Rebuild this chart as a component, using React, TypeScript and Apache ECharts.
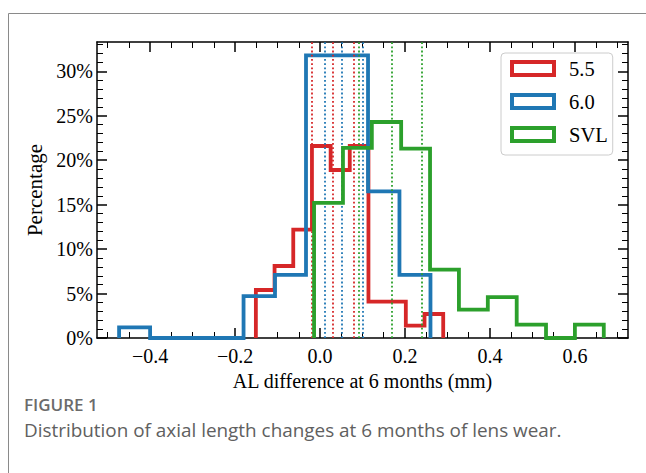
import React, { useEffect, useRef } from "react";
import * as echarts from "echarts";

// ---- data ----
const seriesNames = ["5.5", "6.0", "SVL"];
const seriesColors = ["#d62728", "#1f77b4", "#2ca02c"];

const edges55 = [-0.151, -0.107, -0.063, -0.019, 0.025, 0.07, 0.114, 0.158, 0.202, 0.246, 0.29];
const pct55 = [5.4, 8.1, 12.2, 21.6, 18.9, 21.6, 4.1, 4.1, 1.4, 2.7];

const edges60 = [-0.473, -0.4, -0.326, -0.253, -0.18, -0.106, -0.033, 0.04, 0.113, 0.187, 0.26];
const pct60 = [1.2, 0, 0, 0, 4.7, 7.1, 31.8, 31.8, 16.5, 7.1];

const edgesSVL = [-0.014, 0.054, 0.122, 0.191, 0.259, 0.327, 0.395, 0.463, 0.532, 0.6, 0.668];
const pctSVL = [15.2, 21.4, 24.3, 21.3, 7.7, 3.2, 4.6, 1.5, 0, 1.5];

// dotted reference lines (quartiles) per group
const quart55 = [-0.018, 0.029, 0.078];
const quart60 = [0.009, 0.049, 0.098];
const quartSVL = [0.089, 0.165, 0.239];

const xMajor = [-0.4, -0.2, 0, 0.2, 0.4, 0.6];
const xMinor = [-0.5, -0.45, -0.35, -0.3, -0.25, -0.15, -0.1, -0.05, 0.05, 0.1, 0.15, 0.25, 0.3, 0.35, 0.45, 0.5, 0.55, 0.65, 0.7];
const yMajor = [0, 5, 10, 15, 20, 25, 30];
const yMinor = [1, 2, 3, 4, 6, 7, 8, 9, 11, 12, 13, 14, 16, 17, 18, 19, 21, 22, 23, 24, 26, 27, 28, 29, 31, 32, 33];

const X_MIN = -0.525;
const X_MAX = 0.725;
const Y_MIN = 0;
const Y_MAX = 33.3;

const xTitle = "AL difference at 6 months (mm)";
const yTitle = "Percentage";
const figLabel = "FIGURE 1";
const caption = "Distribution of axial length changes at 6 months of lens wear.";

const SERIF = '"Liberation Serif", "Times New Roman", serif';
const SANS = '"Open Sans", "Noto Sans", sans-serif';

function stepPoints(edges: number[], vals: number[]): number[][] {
  const pts: number[][] = [[edges[0], 0]];
  for (let i = 0; i < vals.length; i++) {
    pts.push([edges[i], vals[i]]);
    pts.push([edges[i + 1], vals[i]]);
  }
  pts.push([edges[edges.length - 1], 0]);
  return pts;
}

function fmtX(v: number): string {
  const s = Math.abs(v).toFixed(1);
  return v < -1e-9 ? "\u2212" + s : s;
}

function xAxisDef(position: string, ticks: number[], len: number, main: boolean, withLabel: boolean): any {
  return {
    type: "value",
    position,
    min: X_MIN,
    max: X_MAX,
    axisLine: { show: main, onZero: false, lineStyle: { color: "#000", width: 1.5 } },
    axisTick: {
      show: true,
      inside: true,
      length: len,
      customValues: ticks,
      lineStyle: { color: "#000", width: len > 7 ? 1.5 : 1 },
    },
    axisLabel: withLabel
      ? {
          show: true,
          customValues: xMajor,
          formatter: fmtX,
          margin: 8,
          fontFamily: SERIF,
          fontSize: 20,
          color: "#000",
        }
      : { show: false },
    splitLine: { show: false },
    ...(withLabel
      ? {
          name: xTitle,
          nameLocation: "middle",
          nameGap: 32,
          nameTextStyle: { fontFamily: SERIF, fontSize: 20, color: "#000" },
        }
      : {}),
  };
}

function yAxisDef(position: string, ticks: number[], len: number, main: boolean, withLabel: boolean): any {
  return {
    type: "value",
    position,
    min: Y_MIN,
    max: Y_MAX,
    axisLine: { show: main, onZero: false, lineStyle: { color: "#000", width: 1.5 } },
    axisTick: {
      show: true,
      inside: true,
      length: len,
      customValues: ticks,
      lineStyle: { color: "#000", width: len > 7 ? 1.5 : 1 },
    },
    axisLabel: withLabel
      ? {
          show: true,
          customValues: yMajor,
          formatter: (v: number) => `${Math.round(v)}%`,
          margin: 4,
          fontFamily: SERIF,
          fontSize: 20,
          color: "#000",
        }
      : { show: false },
    splitLine: { show: false },
    ...(withLabel
      ? {
          name: yTitle,
          nameLocation: "middle",
          nameGap: 47,
          nameTextStyle: { fontFamily: SERIF, fontSize: 21, color: "#000" },
        }
      : {}),
  };
}

export default function App() {
  const ref = useRef<HTMLDivElement>(null);

  useEffect(() => {
    if (!ref.current) return;
    const chart = echarts.init(ref.current, undefined, { renderer: "svg" });

    const groups = [
      { edges: edges55, pct: pct55, quart: quart55 },
      { edges: edges60, pct: pct60, quart: quart60 },
      { edges: edgesSVL, pct: pctSVL, quart: quartSVL },
    ];

    const series: any[] = groups.map((g, i) => ({
      type: "line",
      name: seriesNames[i],
      xAxisIndex: 0,
      yAxisIndex: 0,
      data: stepPoints(g.edges, g.pct),
      showSymbol: false,
      symbol: "none",
      z: 3 + i,
      lineStyle: { color: seriesColors[i], width: 3.8, join: "miter", cap: "butt" },
      itemStyle: { color: seriesColors[i] },
      markLine: {
        silent: true,
        symbol: "none",
        label: { show: false },
        lineStyle: { color: seriesColors[i], width: 1.8, type: [1.8, 2.4], opacity: 1 },
        emphasis: { disabled: true },
        data: g.quart.map((v) => ({ xAxis: v })),
      },
    }));

    const option: any = {
      animation: false,
      backgroundColor: "#fff",
      grid: { left: 97, right: 18, top: 42, bottom: 135, containLabel: false },
      xAxis: [
        xAxisDef("bottom", xMajor, 10, true, true),
        xAxisDef("bottom", xMinor, 6, false, false),
        xAxisDef("top", xMajor, 10, true, false),
        xAxisDef("top", xMinor, 6, false, false),
      ],
      yAxis: [
        yAxisDef("left", yMajor, 10, true, true),
        yAxisDef("left", yMinor, 6, false, false),
        yAxisDef("right", yMajor, 10, true, false),
        yAxisDef("right", yMinor, 6, false, false),
      ],
      legend: {
        orient: "vertical",
        left: 501,
        top: 53,
        padding: [5, 5, 10, 9],
        itemWidth: 42,
        itemHeight: 13,
        itemGap: 12,
        backgroundColor: "rgba(255,255,255,0.85)",
        borderColor: "#cccccc",
        borderWidth: 1,
        borderRadius: 4,
        textStyle: { fontFamily: SERIF, fontSize: 20.5, color: "#000", lineHeight: 20, padding: [0, 0, 0, 10] },
        data: seriesNames.map((n, i) => ({
          name: n,
          icon: "rect",
          itemStyle: { color: "#fff", borderColor: seriesColors[i], borderWidth: 4 },
        })),
      },
      graphic: [
        {
          type: "rect",
          silent: true,
          z: -10,
          shape: { x: 8.5, y: 13.5, width: 900, height: 700 },
          style: { fill: "none", stroke: "#8a8a8a", lineWidth: 1 },
        },
        {
          type: "text",
          x: 24,
          y: 404,
          silent: true,
          style: {
            text: figLabel,
            fontFamily: SANS,
            fontSize: 17,
            fontWeight: 600,
            fill: "#6b6b6b",
            verticalAlign: "middle",
          },
        },
        {
          type: "text",
          x: 24,
          y: 430,
          silent: true,
          style: {
            text: caption,
            fontFamily: SANS,
            fontSize: 18.9,
            fill: "#606060",
            verticalAlign: "middle",
          },
        },
      ],
      series,
    };

    chart.setOption(option);
    return () => chart.dispose();
  }, []);

  return (
    <div
      ref={ref}
      style={{ position: "absolute", left: 0, top: 0, width: 646, height: 473, background: "#fff" }}
    />
  );
}
